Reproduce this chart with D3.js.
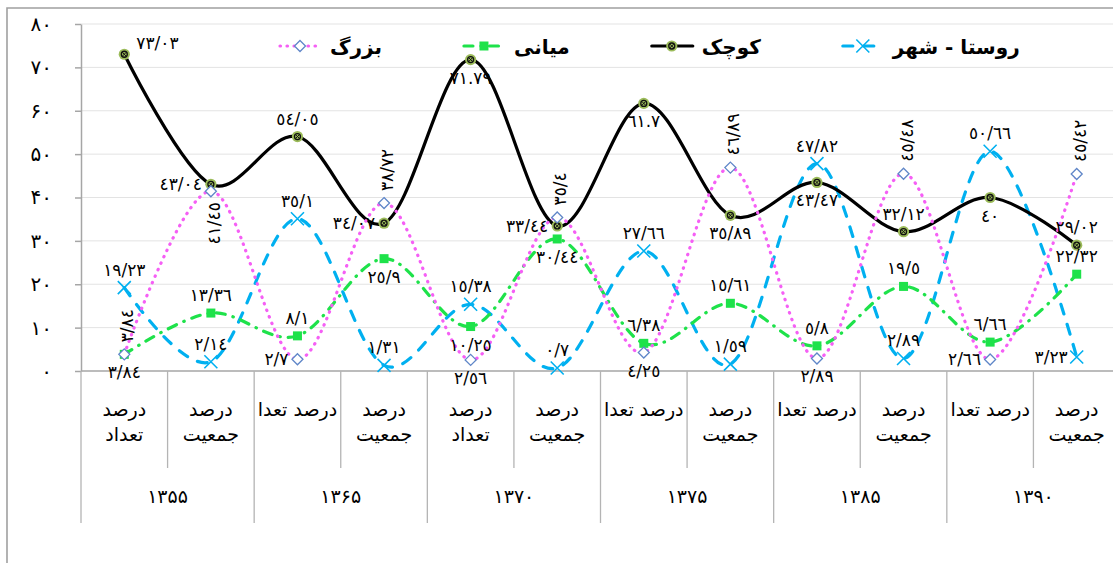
<!DOCTYPE html>
<html>
<head>
<meta charset="utf-8">
<title>Line chart</title>
<style>
  body { margin: 0; background: #fff; }
  svg { display: block; font-family: "DejaVu Sans", sans-serif; }
</style>
</head>
<body>
<script src="https://d3js.org/d3.v7.min.js"></script>
<script>
// Categories: two measures for each census year
var years = ["۱۳۵۵", "۱۳۶۵", "۱۳۷۰", "۱۳۷۵", "۱۳۸۵", "۱۳۹۰"];
var measures = ["درصد تعداد", "درصد جمعیت"];
var categories = [];
years.forEach(function (yr) {
  measures.forEach(function (m) { categories.push(yr + " " + m); });
});

// How the category labels show on the axis (some are cut in the original)
var tickLabels = [
  ["درصد", "تعداد"], ["درصد", "جمعیت"],
  ["درصد تعدا"], ["درصد", "جمعیت"],
  ["درصد", "تعداد"], ["درصد", "جمعیت"],
  ["درصد تعدا"], ["درصد", "جمعیت"],
  ["درصد تعدا"], ["درصد", "جمعیت"],
  ["درصد تعدا"], ["درصد", "جمعیت"]
];

// Y axis ticks
var yTicks = [0, 10, 20, 30, 40, 50, 60, 70, 80];

// Series
var seriesNames = ["روستا - شهر", "کوچک", "میانی", "بزرگ"];
var ruralUrban = [19.23, 2.14, 35.1, 1.31, 15.38, 0.7, 27.66, 1.59, 47.82, 2.89, 50.66, 3.23];
var small = [73.03, 43.04, 54.05, 34.07, 71.79, 33.44, 61.7, 35.89, 43.47, 32.12, 40, 29.02];
var medium = [3.84, 13.36, 8.1, 25.9, 10.25, 30.44, 6.38, 15.61, 5.8, 19.5, 6.66, 22.32];
var large = [3.84, 41.45, 2.7, 38.72, 2.56, 35.4, 4.25, 46.89, 2.89, 45.48, 2.66, 45.42];

// Where each data label sits: t above, b below, l left, tr above right, v / vb rotated
var ruralUrbanPos = ["t", "t", "t", "t", "t", "t", "t", "t", "t", "t", "t", "l"];
var smallPos = ["tr", "l", "t", "l", "b", "l", "b", "b", "b", "t", "b", "t"];
var mediumPos = ["b", "t", "t", "b", "b", "b", "t", "t", "t", "t", "t", "t"];
var largePos = ["v", "vb", "l", "v", "b", "v", "b", "v", "b", "v", "l", "v"];
var dotSeparator = [4, 6]; // labels of "کوچک" written with a dot

var series = [
  { name: seriesNames[0], values: ruralUrban, pos: ruralUrbanPos, color: "#00b0f0", dash: "10,11", marker: "x" },
  { name: seriesNames[1], values: small, pos: smallPos, color: "#000000", dash: null, marker: "circle" },
  { name: seriesNames[2], values: medium, pos: mediumPos, color: "#1ee24a", dash: "9,8,0.5,8", marker: "square" },
  { name: seriesNames[3], values: large, pos: largePos, color: "#f55ff5", dash: "0.5,6.5", marker: "diamond" }
];

var width = 1113, height = 563;
var plot = { left: 81, right: 1120, top: 24, bottom: 371 };

var svg = d3.select("body").append("svg")
  .attr("width", width)
  .attr("height", height);

var faDigits = "۰۱۲۳۴۵۶۷۸۹";
var arDigits = "٠١٢٣٤٥٦٧٨٩";
function toFa(v) {
  return String(v).replace(/[0-9]/g, function (d) { return faDigits[d]; });
}
function toLabel(v, sep) {
  return String(v).replace(".", sep).replace(/[0-9]/g, function (d) { return arDigits[d]; });
}

var x = d3.scaleBand().domain(categories).range([plot.left, plot.right]).padding(0);
var y = d3.scaleLinear().domain([0, 80]).range([plot.bottom, plot.top]);
function cx(i) { return x(categories[i]) + x.bandwidth() / 2; }

// outer frame
svg.append("path")
  .attr("d", "M7," + height + "V8H" + width)
  .attr("fill", "none")
  .attr("stroke", "#a0a0a0")
  .attr("stroke-width", 1.6);

// gridlines
svg.append("g")
  .selectAll("line")
  .data(yTicks.slice(1))
  .enter().append("line")
  .attr("x1", plot.left).attr("x2", plot.right)
  .attr("y1", function (d) { return y(d); })
  .attr("y2", function (d) { return y(d); })
  .attr("stroke", "#e3e3e3")
  .attr("stroke-width", 1);

// y axis
var yAxis = svg.append("g")
  .attr("transform", "translate(" + plot.left + ",0)")
  .call(d3.axisLeft(y).tickValues(yTicks).tickSize(6).tickSizeOuter(0).tickPadding(23).tickFormat(toFa));
yAxis.select(".domain").attr("stroke", "#a6a6a6").attr("stroke-width", 1.5);
yAxis.selectAll(".tick line").attr("stroke", "#a6a6a6").attr("stroke-width", 1.5);
yAxis.selectAll(".tick text")
  .attr("font-size", 20)
  .attr("fill", "#000")
  .attr("font-family", "DejaVu Sans");

// x axis line
svg.append("line")
  .attr("x1", plot.left).attr("x2", plot.right)
  .attr("y1", plot.bottom).attr("y2", plot.bottom)
  .attr("stroke", "#a6a6a6")
  .attr("stroke-width", 1.5);

// category separators (longer ones between years)
var bounds = categories.map(function (c) { return x(c); }).concat([plot.right]);
svg.append("g")
  .selectAll("line")
  .data(bounds)
  .enter().append("line")
  .attr("x1", function (d) { return d; })
  .attr("x2", function (d) { return d; })
  .attr("y1", plot.bottom)
  .attr("y2", function (d, i) { return i % 2 === 0 ? 523 : 468; })
  .attr("stroke", "#b4b4b4")
  .attr("stroke-width", 1.3);

// category labels
var catG = svg.append("g").attr("font-size", 19).attr("text-anchor", "middle");
tickLabels.forEach(function (lines, i) {
  lines.forEach(function (t, j) {
    catG.append("text")
      .attr("x", cx(i))
      .attr("y", 416 + j * 25)
      .text(t);
  });
});

// year labels
svg.append("g")
  .attr("font-size", 19)
  .attr("text-anchor", "middle")
  .selectAll("text")
  .data(years)
  .enter().append("text")
  .attr("x", function (d, g) { return x(categories[g * 2]) + x.bandwidth(); })
  .attr("y", 503)
  .text(function (d) { return d; });

// marker drawing
function drawMarker(g, kind, color, px, py) {
  if (kind === "x") {
    var s = 6.5;
    g.append("path")
      .attr("d", "M" + (px - s) + "," + (py - s) + "L" + (px + s) + "," + (py + s) +
        "M" + (px - s) + "," + (py + s) + "L" + (px + s) + "," + (py - s))
      .attr("stroke", color).attr("stroke-width", 1.6).attr("fill", "none");
  } else if (kind === "circle") {
    g.append("circle").attr("cx", px).attr("cy", py).attr("r", 5.6).attr("fill", "#9bbb59");
    g.append("circle").attr("cx", px).attr("cy", py).attr("r", 3).attr("fill", "none")
      .attr("stroke", "#111").attr("stroke-width", 1.3);
    g.append("path")
      .attr("d", "M" + (px - 2) + "," + (py - 2) + "L" + (px + 2) + "," + (py + 2) +
        "M" + (px - 2) + "," + (py + 2) + "L" + (px + 2) + "," + (py - 2))
      .attr("stroke", "#111").attr("stroke-width", 1);
  } else if (kind === "square") {
    g.append("rect").attr("x", px - 4.5).attr("y", py - 4.5).attr("width", 9).attr("height", 9)
      .attr("fill", color);
  } else if (kind === "diamond") {
    var d = 5.5;
    g.append("path")
      .attr("d", "M" + px + "," + (py - d) + "L" + (px + d) + "," + py + "L" + px + "," + (py + d) +
        "L" + (px - d) + "," + py + "Z")
      .attr("fill", "#fff").attr("stroke", "#5f86c8").attr("stroke-width", 1.3);
  }
}

function styleLine(sel, s) {
  sel.attr("fill", "none")
    .attr("stroke", s.color)
    .attr("stroke-width", 3.2)
    .attr("stroke-linecap", "round")
    .attr("stroke-linejoin", "round");
  if (s.dash) sel.attr("stroke-dasharray", s.dash);
  return sel;
}

var line = d3.line()
  .x(function (d, i) { return cx(i); })
  .y(function (d) { return y(d); })
  .curve(d3.curveCatmullRom.alpha(0));

// lines and markers
series.forEach(function (s) {
  var g = svg.append("g");
  styleLine(g.append("path").datum(s.values).attr("d", line), s);
  s.values.forEach(function (v, i) { drawMarker(g, s.marker, s.color, cx(i), y(v)); });
});

// data labels
var labG = svg.append("g").attr("font-size", 17).attr("fill", "#000");
series.forEach(function (s, si) {
  s.values.forEach(function (v, i) {
    var px = cx(i), py = y(v);
    var sep = (si === 1 && dotSeparator.indexOf(i) >= 0) ? "." : "/";
    var t = labG.append("text").text(toLabel(v, sep));
    var p = s.pos[i];
    if (p === "t") {
      t.attr("x", px).attr("y", py - 12).attr("text-anchor", "middle");
    } else if (p === "b") {
      t.attr("x", px).attr("y", py + 24).attr("text-anchor", "middle");
    } else if (p === "l") {
      t.attr("x", px - 9).attr("y", py + 6).attr("text-anchor", "end");
    } else if (p === "tr") {
      t.attr("x", px + 12).attr("y", py - 5).attr("text-anchor", "start");
    } else if (p === "v") {
      t.attr("transform", "translate(" + (px + 9) + "," + (py - 12) + ") rotate(-90)")
        .attr("text-anchor", "start");
    } else if (p === "vb") {
      t.attr("transform", "translate(" + (px + 9) + "," + (py + 11) + ") rotate(-90)")
        .attr("text-anchor", "end");
    }
  });
});

// legend, left to right: بزرگ، میانی، کوچک، روستا - شهر
var legG = svg.append("g");
var lx = 278, ly = 46;
[3, 2, 1, 0].forEach(function (k) {
  var s = series[k];
  styleLine(legG.append("line")
    .attr("x1", lx + 2).attr("x2", lx + 43)
    .attr("y1", ly).attr("y2", ly), s);
  drawMarker(legG, s.marker, s.color, lx + 22, ly);
  var t = legG.append("text")
    .attr("x", lx + 52)
    .attr("y", ly + 8)
    .attr("font-size", 20)
    .attr("font-weight", "bold")
    .text(s.name);
  lx += 52 + t.node().getComputedTextLength() + 80;
});
</script>
</body>
</html>
